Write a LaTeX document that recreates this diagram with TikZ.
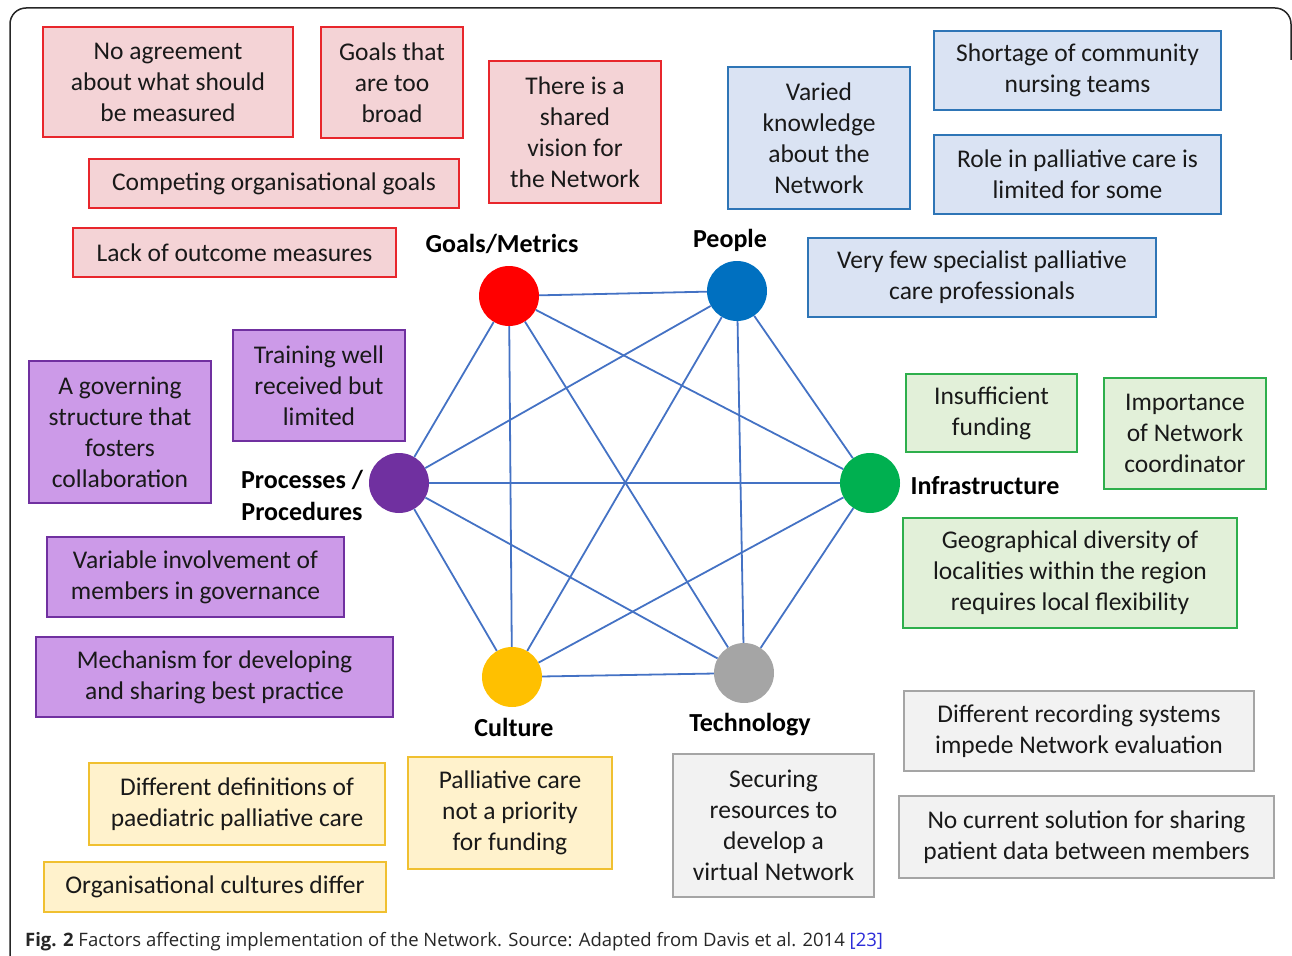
\documentclass[tikz,border=0pt]{standalone}
\usepackage{fontspec}
\setmainfont{Carlito}
\newfontfamily\capfont{Open Sans}
\definecolor{edgeblue}{HTML}{4472C4}
\definecolor{cred}{HTML}{FF0000}
\definecolor{cblue}{HTML}{0070C0}
\definecolor{cpurple}{HTML}{7030A0}
\definecolor{cgreen}{HTML}{00B050}
\definecolor{cyellow}{HTML}{FFC000}
\definecolor{cgray}{HTML}{A5A5A5}
\definecolor{redfill}{HTML}{F4D3D6}
\definecolor{redline}{HTML}{E8262C}
\definecolor{bluefill}{HTML}{DAE3F3}
\definecolor{blueline}{HTML}{2E75B6}
\definecolor{greenfill}{HTML}{E2F0D9}
\definecolor{greenline}{HTML}{2EAF4C}
\definecolor{purplefill}{HTML}{CC9AE8}
\definecolor{purpleline}{HTML}{7030A0}
\definecolor{yellowfill}{HTML}{FFF2CC}
\definecolor{yellowline}{HTML}{F0C030}
\definecolor{grayfill}{HTML}{F2F2F2}
\definecolor{grayline}{HTML}{A5A5A5}
\definecolor{linkblue}{HTML}{2B2BD8}
\tikzset{
  box/.style={draw, line width=2pt, align=center, inner sep=0pt,
    font=\fontsize{25.5}{31}\selectfont, text=black!90},
  rbox/.style={box, fill=redfill, draw=redline},
  bbox/.style={box, fill=bluefill, draw=blueline},
  gbox/.style={box, fill=greenfill, draw=greenline},
  pbox/.style={box, fill=purplefill, draw=purpleline},
  ybox/.style={box, fill=yellowfill, draw=yellowline},
  kbox/.style={box, fill=grayfill, draw=grayline},
  hub/.style={circle, minimum size=60pt, inner sep=0pt},
  hublabel/.style={font=\bfseries\fontsize{26}{32}\selectfont, align=center, text=black},
  link/.style={draw=edgeblue, line width=1.8pt}
}
\begin{document}
\begin{tikzpicture}[x=1pt,y=-1pt]
\useasboundingbox (0,0) rectangle (1292,955);
% frame
\draw[line width=1.5pt, black!85, rounded corners=16pt] (10,960) -- (10,8) -- (1291,8) -- (1291,60);

% hubs
\node[hub, fill=cred] (goals) at (509,296) {};
\node[hub, fill=cblue] (people) at (737,291) {};
\node[hub, fill=cpurple] (proc) at (399,483) {};
\node[hub, fill=cgreen] (infra) at (870,483) {};
\node[hub, fill=cyellow] (cult) at (512,677) {};
\node[hub, fill=cgray] (tech) at (744,673) {};

% links (complete graph)
\foreach \a/\b in {goals/people, goals/proc, goals/infra, goals/cult, goals/tech,
                   people/proc, people/infra, people/cult, people/tech,
                   proc/infra, proc/cult, proc/tech,
                   infra/cult, infra/tech, cult/tech}
  \draw[link] (\a) -- (\b);

% hub labels
\node[hublabel] (lgoals) at (502,244) {Goals/Metrics};
\node[hublabel] (lpeople) at (730,240) {People};
\node[hublabel] (lproc) at (302,495) {Processes /\\Procedures};
\node[hublabel] (linfra) at (985,486) {Infrastructure};
\node[hublabel] (lcult) at (514,727) {Culture};
\node[hublabel] (ltech) at (750,725) {Technology};

% red boxes
\node[rbox, minimum width=250pt, minimum height=110pt] (r1) at (168,82) {No agreement\\about what should\\be measured};
\node[rbox, minimum width=142pt, minimum height=111pt] (r2) at (392,82.5) {Goals that\\are too\\broad};
\node[rbox, minimum width=172pt, minimum height=142pt] (r3) at (575,132) {There is a\\shared\\vision for\\the Network};
\node[rbox, minimum width=370pt, minimum height=49pt] (r4) at (274,183.5) {Competing organisational goals};
\node[rbox, minimum width=323pt, minimum height=49pt] (r5) at (234.5,252.5) {Lack of outcome measures};

% blue boxes
\node[bbox, minimum width=182pt, minimum height=142pt] (b1) at (819,138) {Varied\\knowledge\\about the\\Network};
\node[bbox, minimum width=287pt, minimum height=79pt] (b2) at (1077.5,70.5) {Shortage of community\\nursing teams};
\node[bbox, minimum width=287pt, minimum height=79pt] (b3) at (1077.5,174.5) {Role in palliative care is\\limited for some};
\node[bbox, minimum width=348pt, minimum height=79pt] (b4) at (982,277.5) {Very few specialist palliative\\care professionals};

% green boxes
\node[gbox, minimum width=171pt, minimum height=78pt] (g1) at (991.5,413) {Insufficient\\funding};
\node[gbox, minimum width=162pt, minimum height=111pt] (g2) at (1185,433.5) {Importance\\of Network\\coordinator};
\node[gbox, minimum width=334pt, minimum height=110pt] (g3) at (1070,573) {Geographical diversity of\\localities within the region\\requires local flexibility};

% purple boxes
\node[pbox, minimum width=182pt, minimum height=142pt] (p1) at (120,432) {A governing\\structure that\\fosters\\collaboration};
\node[pbox, minimum width=172pt, minimum height=111pt] (p2) at (319,385.5) {Training well\\received but\\limited};
\node[pbox, minimum width=297pt, minimum height=80pt] (p3) at (195.5,577) {Variable involvement of\\members in governance};
\node[pbox, minimum width=357pt, minimum height=80pt] (p4) at (214.5,677) {Mechanism for developing\\and sharing best practice};

% yellow boxes
\node[ybox, minimum width=296pt, minimum height=82pt] (y1) at (237,804) {Different definitions of\\paediatric palliative care};
\node[ybox, minimum width=204pt, minimum height=112pt] (y2) at (510,813) {Palliative care\\not a priority\\for funding};
\node[ybox, minimum width=342pt, minimum height=50pt] (y3) at (215,887) {Organisational cultures differ};

% gray boxes
\node[kbox, minimum width=201pt, minimum height=143pt] (k1) at (773.5,825.5) {Securing\\resources to\\develop a\\virtual Network};
\node[kbox, minimum width=350pt, minimum height=80pt] (k2) at (1079,731) {Different recording systems\\impede Network evaluation};
\node[kbox, minimum width=375pt, minimum height=82pt] (k3) at (1086.5,837) {No current solution for sharing\\patient data between members};

% caption
\node[anchor=base west, inner sep=0pt, font=\capfont\fontsize{18.5}{21}\selectfont, text=black!85] (cap) at (25,946)
  {\textbf{Fig. 2} Factors affecting implementation of the Network. Source: Adapted from Davis et al. 2014 \textcolor{linkblue}{[23]}};
\end{tikzpicture}
\end{document}
